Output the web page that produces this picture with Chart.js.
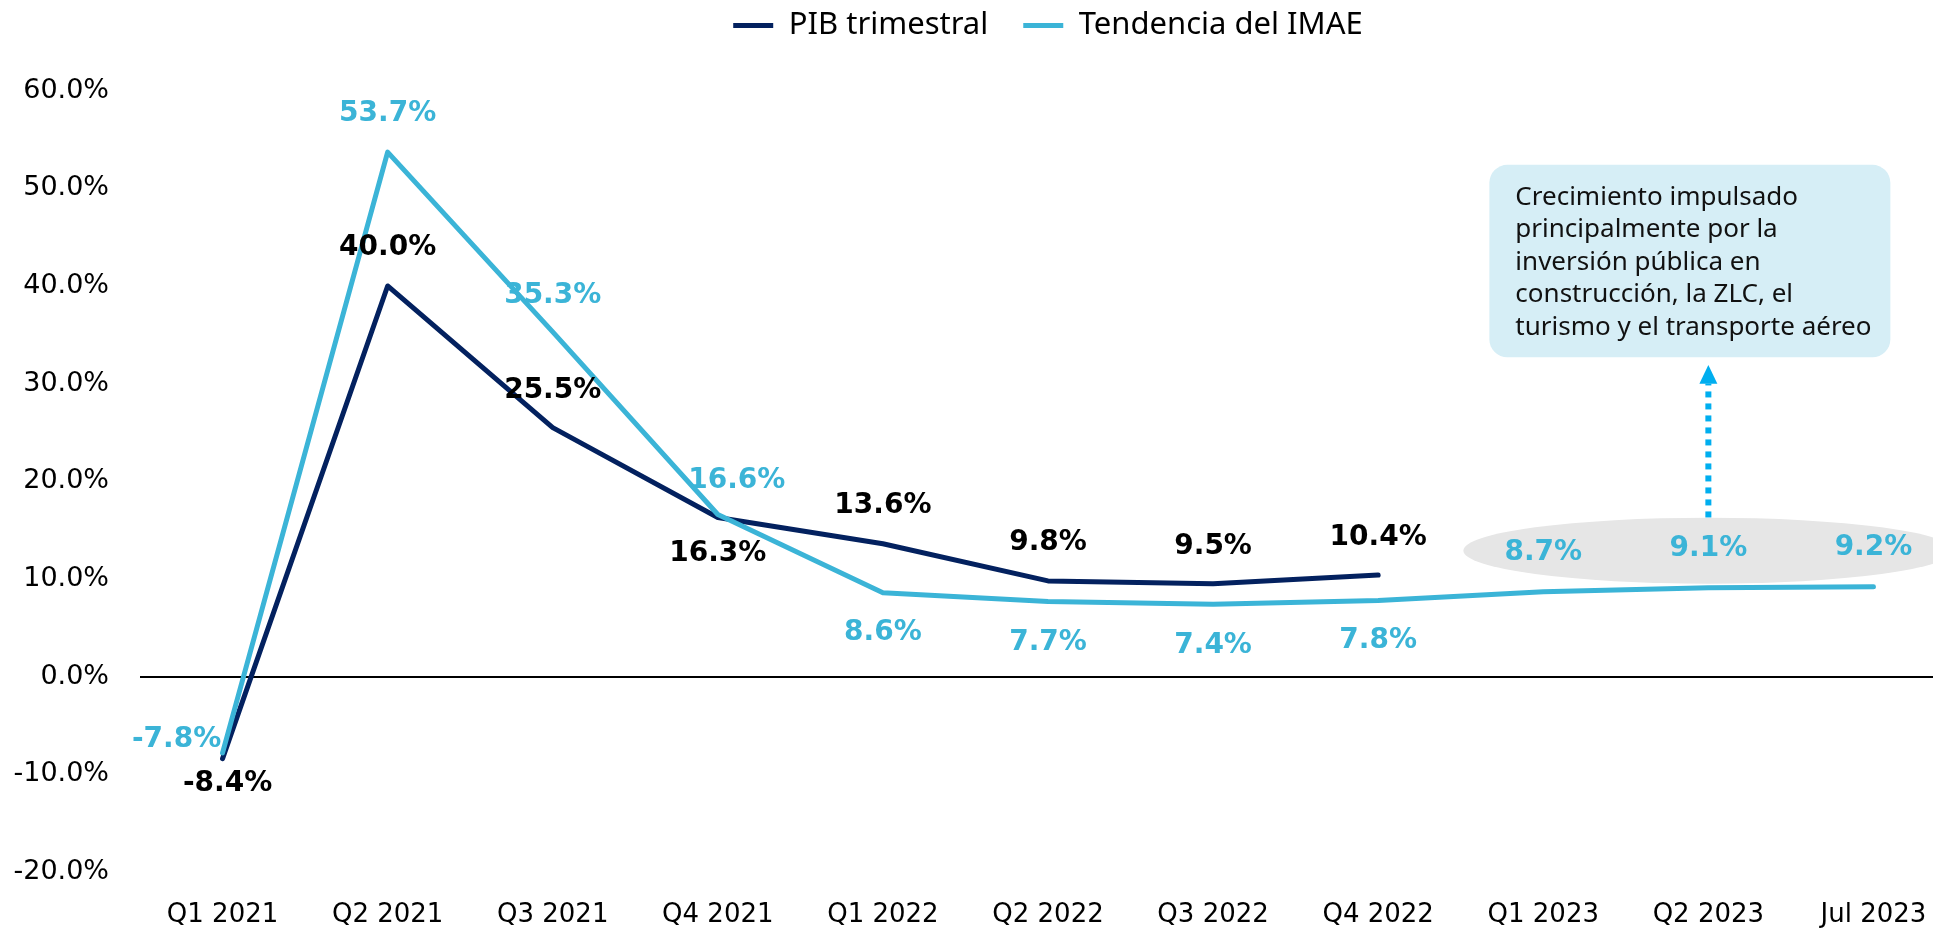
<!DOCTYPE html>
<html>
<head>
<meta charset="utf-8">
<script src="https://cdn.jsdelivr.net/npm/chart.js@4.4.0/dist/chart.umd.min.js"></script>
<style>
    html, body { margin: 0; padding: 0; background: #ffffff; overflow: hidden; }
    #wrap { position: relative; width: 1956px; height: 928px; }
</style>
</head>
<body>
<div id="wrap"><canvas id="pibChart"></canvas></div>
<script>
// datos del grafico
const categories = ['Q1 2021', 'Q2 2021', 'Q3 2021', 'Q4 2021', 'Q1 2022', 'Q2 2022',
                    'Q3 2022', 'Q4 2022', 'Q1 2023', 'Q2 2023', 'Jul 2023'];
const pibTrimestral = [-8.4, 40.0, 25.5, 16.3, 13.6, 9.8, 9.5, 10.4, null, null, null];
const tendenciaImae = [-7.8, 53.7, 35.3, 16.6, 8.6, 7.7, 7.4, 7.8, 8.7, 9.1, 9.2];
const yTicks = [-20, -10, 0, 10, 20, 30, 40, 50, 60];
const noteLines = ['Crecimiento impulsado', 'principalmente por la', 'inversión pública en',
                   'construcción, la ZLC, el', 'turismo y el transporte aéreo'];

// desplazamiento de cada etiqueta respecto a su punto (px)
const pibLabelOffsets = [[5, 25], [0, -38], [0, -37], [0, 36], [0, -38], [0, -38], [0, -37], [0, -37]];
const imaeLabelOffsets = [[-46, -13], [0, -38], [0, -36], [19, -34], [0, 40], [0, 41], [0, 41], [0, 40],
                          [0, -39], [0, -39], [0, -39]];

const NAVY = '#03215f';
const CYAN = '#3bb4d7';

(function() {
    const valueLabels = {
        id: 'valueLabels',
        afterDatasetsDraw(chart) {
            const ctx = chart.ctx;
            ctx.save();
            ctx.font = 'bold 28px "DejaVu Sans"';
            ctx.textAlign = 'center';
            ctx.textBaseline = 'middle';
            chart.data.datasets.forEach((ds, di) => {
                const meta = chart.getDatasetMeta(di);
                meta.data.forEach((pt, i) => {
                    const v = ds.data[i];
                    if (v === null || v === undefined) return;
                    const off = ds.labelOffsets[i] || [0, -38];
                    ctx.fillStyle = ds.labelColor;
                    ctx.fillText(v.toFixed(1) + '%', pt.x + off[0], pt.y + off[1]);
                });
            });
            ctx.restore();
        }
    };

    // elipse, flecha punteada y recuadro de comentario
    const notePlugin = {
        id: 'notePlugin',
        beforeDatasetsDraw(chart) {
            const {ctx, scales: {x, y}} = chart;
            const cx = x.getPixelForValue(9);
            ctx.save();
            ctx.fillStyle = '#e6e6e6';
            ctx.beginPath();
            ctx.ellipse(cx, y.getPixelForValue(12.9), 245, 33, 0, 0, Math.PI * 2);
            ctx.fill();
            ctx.restore();
        },
        afterDraw(chart) {
            const {ctx, scales: {x, y}} = chart;
            const cx = x.getPixelForValue(9);
            ctx.save();
            // flecha
            ctx.strokeStyle = '#00aeef';
            ctx.lineWidth = 6;
            ctx.setLineDash([6, 6]);
            ctx.beginPath();
            ctx.moveTo(cx, y.getPixelForValue(16.3));
            ctx.lineTo(cx, y.getPixelForValue(30.0));
            ctx.stroke();
            ctx.setLineDash([]);
            ctx.fillStyle = '#00aeef';
            const baseY = y.getPixelForValue(30.0);
            ctx.beginPath();
            ctx.moveTo(cx - 9, baseY);
            ctx.lineTo(cx + 9, baseY);
            ctx.lineTo(cx, y.getPixelForValue(31.9));
            ctx.closePath();
            ctx.fill();

            // recuadro
            const top = y.getPixelForValue(52.4);
            const bottom = y.getPixelForValue(32.7);
            const left = cx - 219;
            const right = cx + 182;
            ctx.fillStyle = '#d6eef6';
            ctx.beginPath();
            ctx.roundRect(left, top, right - left, bottom - top, 18);
            ctx.fill();

            ctx.fillStyle = '#111111';
            ctx.font = '26px "Noto Sans"';
            ctx.textAlign = 'left';
            ctx.textBaseline = 'alphabetic';
            noteLines.forEach((line, i) => {
                ctx.fillText(line, left + 26, top + 40 + i * 32.5);
            });
            ctx.restore();
        }
    };

    const ctx = document.getElementById('pibChart').getContext('2d');
    new Chart(ctx, {
        type: 'line',
        data: {
            labels: categories,
            datasets: [{
                label: 'PIB trimestral',
                data: pibTrimestral,
                borderColor: NAVY,
                backgroundColor: NAVY,
                borderWidth: 5,
                pointRadius: 0,
                tension: 0,
                borderJoinStyle: 'round',
                borderCapStyle: 'round',
                labelColor: '#000000',
                labelOffsets: pibLabelOffsets,
                order: 1
            }, {
                label: 'Tendencia del IMAE',
                data: tendenciaImae,
                borderColor: CYAN,
                backgroundColor: CYAN,
                borderWidth: 5,
                pointRadius: 0,
                tension: 0,
                borderJoinStyle: 'round',
                borderCapStyle: 'round',
                labelColor: CYAN,
                labelOffsets: imaeLabelOffsets,
                order: 0
            }]
        },
        options: {
            responsive: true,
            maintainAspectRatio: false,
            animation: false,
            layout: { padding: { top: -25, left: 0, right: 0, bottom: 0 } },
            scales: {
                x: {
                    offset: true,
                    grid: { display: false, drawTicks: false },
                    border: { display: false },
                    ticks: {
                        color: '#000000',
                        padding: 28,
                        maxRotation: 0,
                        autoSkip: false,
                        font: { family: '"DejaVu Sans"', size: 26 }
                    },
                    afterFit(scale) { scale.height = 56; }
                },
                y: {
                    min: Math.min(...yTicks),
                    max: Math.max(...yTicks),
                    grid: {
                        drawTicks: false,
                        lineWidth: 2,
                        color: (c) => c.tick && c.tick.value === 0 ? '#000000' : 'rgba(0,0,0,0)'
                    },
                    border: { display: false },
                    ticks: {
                        stepSize: 10,
                        padding: 31,
                        color: '#000000',
                        font: { family: '"DejaVu Sans"', size: 27 },
                        callback: function(value) {
                            return value.toFixed(1) + '%';
                        }
                    },
                    afterFit(scale) { scale.width = 140; }
                }
            },
            plugins: {
                legend: {
                    position: 'top',
                    fullSize: false,
                    labels: {
                        usePointStyle: true,
                        pointStyle: 'line',
                        pointStyleWidth: 40,
                        padding: 35,
                        color: '#000000',
                        font: { family: '"Noto Sans"', size: 31 },
                        sort: (a, b) => a.datasetIndex - b.datasetIndex
                    }
                },
                subtitle: {
                    display: true,
                    text: '',
                    weight: 500,
                    padding: 0,
                    font: { size: 33 }
                },
                tooltip: { enabled: false }
            }
        },
        plugins: [notePlugin, valueLabels]
    });
})();
</script>
</body>
</html>
